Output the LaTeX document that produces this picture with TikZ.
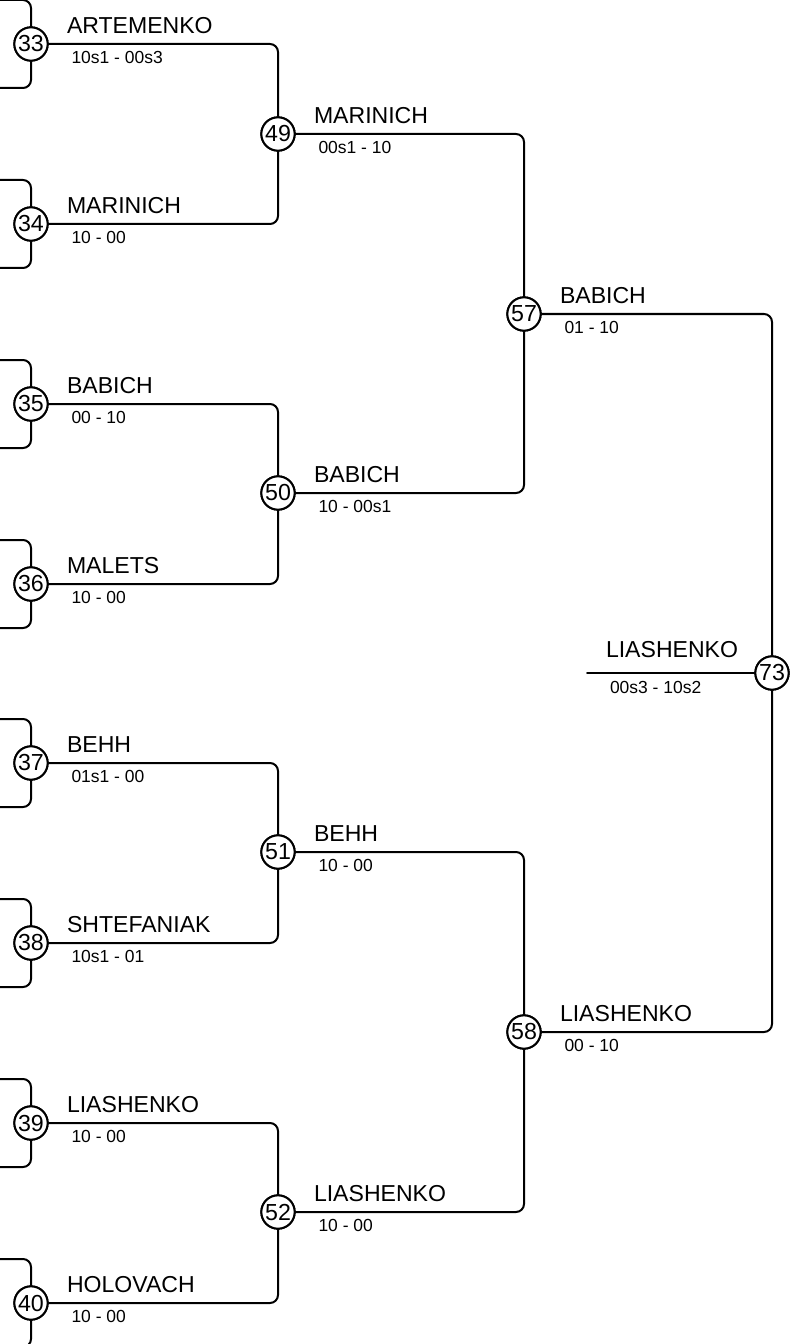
\documentclass[tikz,border=0pt]{standalone}
\usepackage{fontspec}
\setmainfont{Liberation Sans}
\begin{document}
\begin{tikzpicture}[x=0.75pt,y=-0.75pt,
  line width=1.5pt, line cap=round,
  seed/.style={circle,draw,fill=white,line width=1.5pt,minimum size=25pt,inner sep=0pt,font=\fontsize{17.4}{17}\selectfont},
  pname/.style={anchor=base west,inner sep=0pt,font=\fontsize{17.3}{17}\selectfont},
  pscore/.style={anchor=base west,inner sep=0pt,font=\fontsize{13.1}{13}\selectfont},
  link/.style={rounded corners=6pt}]
\useasboundingbox (0,0) rectangle (789,1344);
% first round circles
\node[seed] (c33) at (31,44) {33};
\node[seed] (c34) at (31,224) {34};
\node[seed] (c35) at (31,404) {35};
\node[seed] (c36) at (31,584) {36};
\node[seed] (c37) at (31,763) {37};
\node[seed] (c38) at (31,943) {38};
\node[seed] (c39) at (31,1123) {39};
\node[seed] (c40) at (31,1303) {40};
% second round
\node[seed] (c49) at (278,134) {49};
\node[seed] (c50) at (278,493) {50};
\node[seed] (c51) at (278,852) {51};
\node[seed] (c52) at (278,1212) {52};
% third
\node[seed] (c57) at (524,314) {57};
\node[seed] (c58) at (524,1032) {58};
% final
\node[seed] (c73) at (772,673) {73};
% left brackets
\foreach \n/\y in {33/44,34/224,35/404,36/584,37/763,38/943,39/1123,40/1303}{
  \coordinate (t\n) at (-2,\y-44);
  \coordinate (b\n) at (-2,\y+44);
  \draw[link] (t\n) -| (c\n.north);
  \draw[link] (b\n) -| (c\n.south);
}
% connectors
\draw[link] (c33.east) -| (c49.north);
\draw[link] (c34.east) -| (c49.south);
\draw[link] (c35.east) -| (c50.north);
\draw[link] (c36.east) -| (c50.south);
\draw[link] (c37.east) -| (c51.north);
\draw[link] (c38.east) -| (c51.south);
\draw[link] (c39.east) -| (c52.north);
\draw[link] (c40.east) -| (c52.south);
\draw[link] (c49.east) -| (c57.north);
\draw[link] (c50.east) -| (c57.south);
\draw[link] (c51.east) -| (c58.north);
\draw[link] (c52.east) -| (c58.south);
\draw[link] (c57.east) -| (c73.north);
\draw[link] (c58.east) -| (c73.south);
\coordinate (fin) at (587,673);
\draw (fin) -- (c73.west);
% redraw circles on top
\foreach \n in {33,34,35,36,37,38,39,40,49,50,51,52,57,58,73}{
  \node[seed] at (c\n) {\n};
}
% labels
\foreach \x/\y/\nm/\sc in {
  31/44/ARTEMENKO/10s1 - 00s3,
  31/224/MARINICH/10 - 00,
  31/404/BABICH/00 - 10,
  31/584/MALETS/10 - 00,
  31/763/BEHH/01s1 - 00,
  31/943/SHTEFANIAK/10s1 - 01,
  31/1123/LIASHENKO/10 - 00,
  31/1303/HOLOVACH/10 - 00,
  278/134/MARINICH/00s1 - 10,
  278/493/BABICH/10 - 00s1,
  278/852/BEHH/10 - 00,
  278/1212/LIASHENKO/10 - 00,
  524/314/BABICH/01 - 10,
  524/1032/LIASHENKO/00 - 10}{
  \node[pname] (n\x-\y) at (\x+35,\y-10.5) {\nm};
  \node[pscore] (s\x-\y) at (\x+39.5,\y+19.3) {\sc};
}
\node[pname] (nfin) at (605,657.3) {LIASHENKO};
\node[pscore] (sfin) at (609,693.3) {00s3 - 10s2};
\end{tikzpicture}
\end{document}
